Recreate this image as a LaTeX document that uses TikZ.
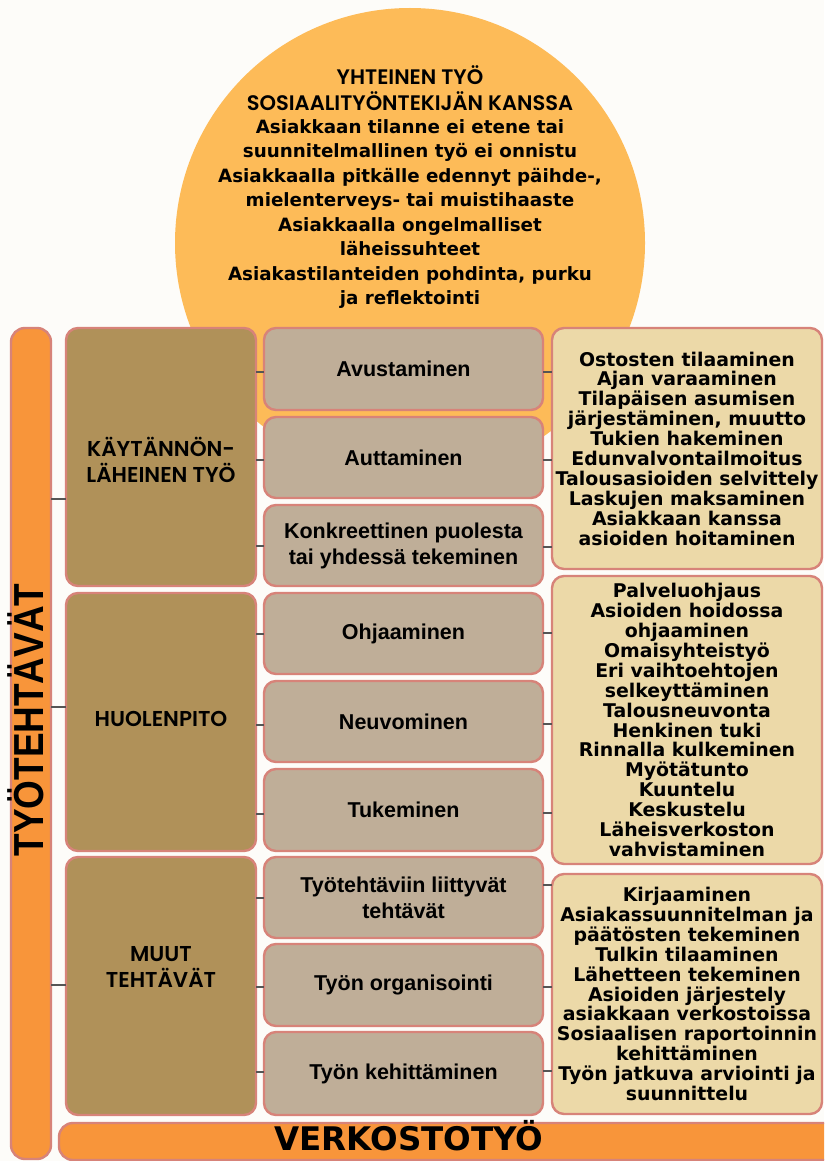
\documentclass[tikz,border=0pt]{standalone}
\usepackage{fontspec}
\usepackage{graphicx}
\setmainfont{DejaVu Sans}
\newfontfamily\midf{Liberation Sans}
\newfontfamily\headf{Poppins}[BoldFont={Poppins SemiBold}]
\newfontfamily\bigf{Liberation Sans}
\definecolor{bgc}{HTML}{FDFCF9}
\definecolor{circlec}{HTML}{FDBB58}
\definecolor{orangec}{HTML}{F8953A}
\definecolor{bord}{HTML}{D78379}
\definecolor{brownc}{HTML}{B09159}
\definecolor{midc}{HTML}{BFAE98}
\definecolor{rightc}{HTML}{ECD9A8}
\definecolor{tickc}{HTML}{555555}
\tikzset{
  basebox/.style={draw=bord, line width=2.4pt, rounded corners=12pt, anchor=north west,
    inner sep=0pt, outer sep=0pt, align=center, text=black},
  brownbox/.style={basebox, fill=brownc, minimum width=190pt, minimum height=258pt},
  midbox/.style={basebox, fill=midc, minimum width=279pt,
    font=\midf\bfseries\fontsize{21.5}{26}\selectfont},
  rightbox/.style={basebox, fill=rightc, minimum width=270pt,
    font=\bfseries\fontsize{18.9}{19.9}\selectfont},
  barbox/.style={basebox, fill=orangec, rounded corners=14pt},
  headtext/.style={align=center, inner sep=0pt, font=\headf\bfseries\fontsize{21.5}{26}\selectfont},
  tick/.style={draw=tickc, line width=1.5pt}
}
\begin{document}
\begin{tikzpicture}[x=1pt,y=-1pt]
\useasboundingbox (0,0) rectangle (824,1161);
\clip (0,0) rectangle (824,1161);
\fill[bgc] (0,0) rectangle (824,1161);
% circle
\node[circle, fill=circlec, minimum size=470pt, inner sep=0pt] (circ) at (410,243) {};
\node[headtext, font=\headf\bfseries\fontsize{21}{26}\selectfont] (ctitle) at (410,88) {YHTEINEN TYÖ\\SOSIAALITYÖNTEKIJÄN KANSSA};
\node[align=center, inner sep=0pt, font=\bfseries\fontsize{18.3}{24.5}\selectfont] (ctext) at (410,214) {%
  Asiakkaan tilanne ei etene tai\\
  suunnitelmallinen työ ei onnistu\\
  Asiakkaalla pitkälle edennyt päihde-,\\
  mielenterveys- tai muistihaaste\\
  Asiakkaalla ongelmalliset\\
  läheissuhteet\\
  Asiakastilanteiden pohdinta, purku\\
  ja reflektointi};
% vertical bar and bottom bar
\node[barbox, minimum width=40pt, minimum height=831pt] (vbar) at (11,328) {};
\node[barbox, minimum width=800pt, minimum height=37pt] (hbar) at (59,1123) {};
\node[rotate=90, anchor=base, inner sep=0pt, font=\bigf\bfseries\fontsize{42}{42}\selectfont] (vtext) at (43,720) {\scalebox{0.88}[1]{TYÖTEHTÄVÄT}};
\node[anchor=base, inner sep=0pt, font=\bfseries\fontsize{32.5}{32.5}\selectfont] (htext) at (409,1150) {VERKOSTOTYÖ};
% brown column
\node[brownbox] (b1) at (66,328) {};
\node[brownbox] (b2) at (66,593) {};
\node[brownbox] (b3) at (66,857) {};
\node[headtext] (b1t) at (161,460) {KÄYTÄNNÖN-\\LÄHEINEN TYÖ};
\node[headtext] (b2t) at (161,719) {HUOLENPITO};
\node[headtext] (b3t) at (161,967) {MUUT\\TEHTÄVÄT};
% middle column
\node[midbox, minimum height=82pt] (m1) at (264,328) {Avustaminen};
\node[midbox, minimum height=81pt] (m2) at (264,417) {Auttaminen};
\node[midbox, minimum height=81pt] (m3) at (264,505) {Konkreettinen puolesta\\tai yhdessä tekeminen};
\node[midbox, minimum height=81pt] (m4) at (264,593) {Ohjaaminen};
\node[midbox, minimum height=81pt] (m5) at (264,681) {Neuvominen};
\node[midbox, minimum height=82pt] (m6) at (264,769) {Tukeminen};
\node[midbox, minimum height=81pt] (m7) at (264,857) {Työtehtäviin liittyvät\\tehtävät};
\node[midbox, minimum height=82pt] (m8) at (264,944) {Työn organisointi};
\node[midbox, minimum height=83pt] (m9) at (264,1032) {Työn kehittäminen};
% right column
\node[rightbox, minimum height=241pt] (r1) at (552,328) {%
  Ostosten tilaaminen\\Ajan varaaminen\\Tilapäisen asumisen\\järjestäminen, muutto\\Tukien hakeminen\\Edunvalvontailmoitus\\Talousasioiden selvittely\\Laskujen maksaminen\\Asiakkaan kanssa\\asioiden hoitaminen};
\node[rightbox, minimum height=288pt] (r2) at (552,576) {%
  Palveluohjaus\\Asioiden hoidossa\\ohjaaminen\\Omaisyhteistyö\\Eri vaihtoehtojen\\selkeyttäminen\\Talousneuvonta\\Henkinen tuki\\Rinnalla kulkeminen\\Myötätunto\\Kuuntelu\\Keskustelu\\Läheisverkoston\\vahvistaminen};
\node[rightbox, minimum height=240pt] (r3) at (552,874) {%
  Kirjaaminen\\Asiakassuunnitelman ja\\päätösten tekeminen\\Tulkin tilaaminen\\Lähetteen tekeminen\\Asioiden järjestely\\asiakkaan verkostoissa\\Sosiaalisen raportoinnin\\kehittäminen\\Työn jatkuva arviointi ja\\suunnittelu};
% ticks bar -> brown
\draw[tick] (vbar.east |- 0,499) -- (b1.west |- 0,499);
\draw[tick] (vbar.east |- 0,707) -- (b2.west |- 0,707);
\draw[tick] (vbar.east |- 0,985) -- (b3.west |- 0,985);
% ticks brown -> middle
\draw[tick] (b1.east |- 0,372) -- (m1.west |- 0,372);
\draw[tick] (b1.east |- 0,460) -- (m2.west |- 0,460);
\draw[tick] (b1.east |- 0,546) -- (m3.west |- 0,546);
\draw[tick] (b2.east |- 0,634) -- (m4.west |- 0,634);
\draw[tick] (b2.east |- 0,725) -- (m5.west |- 0,725);
\draw[tick] (b2.east |- 0,814) -- (m6.west |- 0,814);
\draw[tick] (b3.east |- 0,898) -- (m7.west |- 0,898);
\draw[tick] (b3.east |- 0,987) -- (m8.west |- 0,987);
\draw[tick] (b3.east |- 0,1072) -- (m9.west |- 0,1072);
% ticks middle -> right
\draw[tick] (m1.east |- 0,372) -- (r1.west |- 0,372);
\draw[tick] (m2.east |- 0,460) -- (r1.west |- 0,460);
\draw[tick] (m3.east |- 0,547) -- (r1.west |- 0,547);
\draw[tick] (m4.east |- 0,633) -- (r2.west |- 0,633);
\draw[tick] (m5.east |- 0,724) -- (r2.west |- 0,724);
\draw[tick] (m6.east |- 0,813) -- (r2.west |- 0,813);
\draw[tick] (m7.east |- 0,885) -- (r3.west |- 0,885);
\draw[tick] (m8.east |- 0,987) -- (r3.west |- 0,987);
\draw[tick] (m9.east |- 0,1071) -- (r3.west |- 0,1071);
\end{tikzpicture}
\end{document}
